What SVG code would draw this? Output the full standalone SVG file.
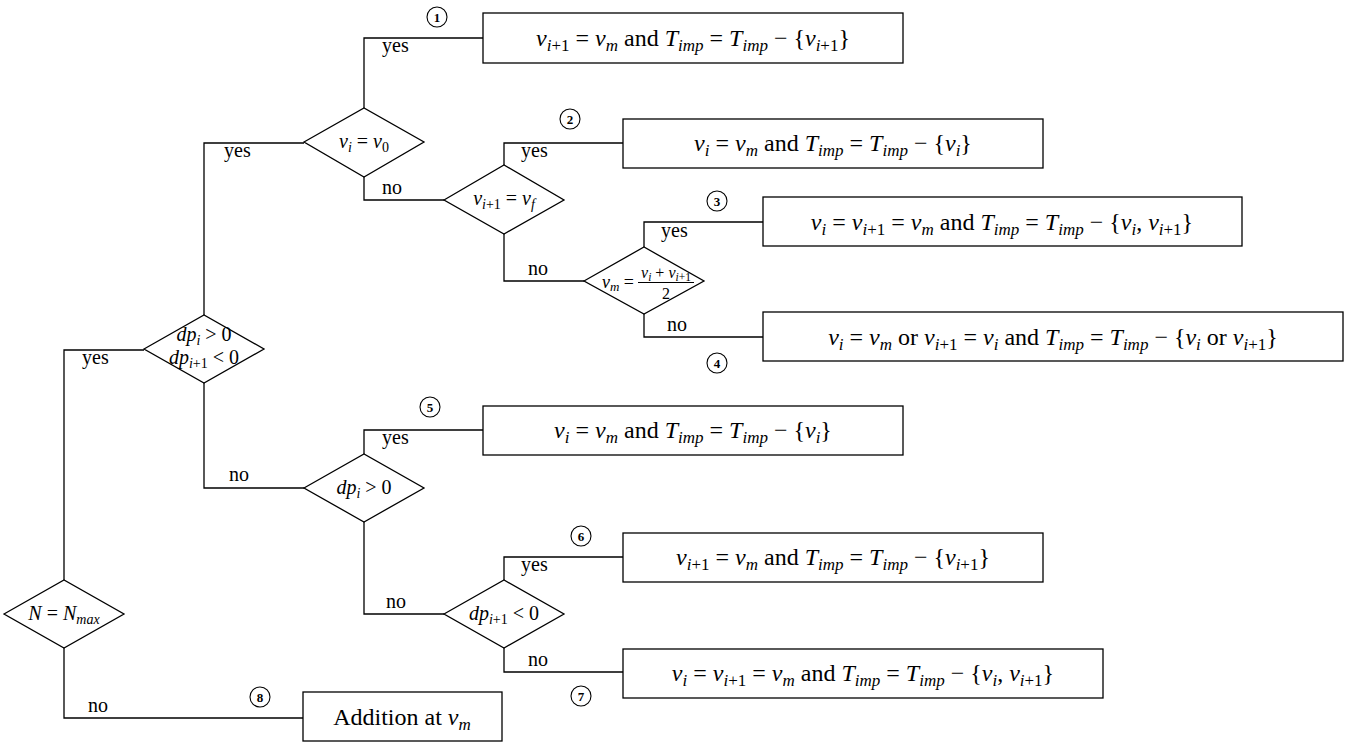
<svg xmlns="http://www.w3.org/2000/svg" width="1356" height="745" viewBox="0 0 1356 745">
<style>
.ln{stroke:#000;stroke-width:1.3;fill:none}
.sh{fill:#fff;stroke:#000;stroke-width:1.3}
.t{font-family:"Liberation Serif","Times New Roman",serif;fill:#000}
.bt{font-size:24px}
.bs{font-size:17px}
.dt{font-size:20px}
.ds{font-size:14px}
.yn{font-size:20px}
.i{font-style:italic}
.cc{fill:#fff;stroke:#000;stroke-width:1.1}
.cn{font-size:13px;font-weight:bold}
</style>
<rect width="1356" height="745" fill="#fff"/>
<g id="connectors">
<polyline class="ln" points="64,580 64,350 144,350"/>
<polyline class="ln" points="64,648 64,718 303,718"/>
<polyline class="ln" points="204,315 204,143 304,143"/>
<polyline class="ln" points="204,383 204,488 304,488"/>
<polyline class="ln" points="364,108 364,38 483,38"/>
<polyline class="ln" points="364,177 364,200 444,200"/>
<polyline class="ln" points="504,165 504,143 623,143"/>
<polyline class="ln" points="504,234 504,281 584,281"/>
<polyline class="ln" points="644,247 644,222 763,222"/>
<polyline class="ln" points="644,314 644,337 763,337"/>
<polyline class="ln" points="364,454 364,430 483,430"/>
<polyline class="ln" points="364,522 364,614 444,614"/>
<polyline class="ln" points="504,580 504,557 623,557"/>
<polyline class="ln" points="504,648 504,672 623,672"/>
<g class="t yn">
<text x="82" y="364">yes</text>
<text x="88" y="712">no</text>
<text x="224" y="157">yes</text>
<text x="229" y="481">no</text>
<text x="382" y="52">yes</text>
<text x="382" y="194">no</text>
<text x="521" y="157">yes</text>
<text x="528" y="275">no</text>
<text x="661" y="237">yes</text>
<text x="667" y="331">no</text>
<text x="382" y="444">yes</text>
<text x="386" y="608">no</text>
<text x="521" y="571">yes</text>
<text x="528" y="666">no</text>
</g>
<g class="t cn" text-anchor="middle">
<circle class="cc" cx="437" cy="17" r="10"/><text x="437" y="21.5">1</text>
<circle class="cc" cx="570" cy="119" r="10"/><text x="570" y="123.5">2</text>
<circle class="cc" cx="717" cy="201" r="10"/><text x="717" y="205.5">3</text>
<circle class="cc" cx="717" cy="363" r="10"/><text x="717" y="367.5">4</text>
<circle class="cc" cx="430" cy="407" r="10"/><text x="430" y="411.5">5</text>
<circle class="cc" cx="581" cy="536" r="10"/><text x="581" y="540.5">6</text>
<circle class="cc" cx="581" cy="696" r="10"/><text x="581" y="700.5">7</text>
<circle class="cc" cx="260" cy="697" r="10"/><text x="260" y="701.5">8</text>
</g>
</g>
<g id="d-nmax">
<polygon class="sh" points="4,614 64,580 124,614 64,648"/>
<text class="t dt" x="64" y="620" text-anchor="middle"><tspan class="i">N</tspan> = <tspan class="i">N</tspan><tspan class="ds i" dy="4">max</tspan></text>
</g>
<g id="d-dp-both">
<polygon class="sh" points="144,349 204,315 264,349 204,383"/>
<text class="t dt" x="204" y="341" text-anchor="middle"><tspan class="i">dp</tspan><tspan class="ds i" dy="4">i</tspan><tspan dy="-4"> &gt; 0</tspan></text>
<text class="t dt" x="204" y="364" text-anchor="middle"><tspan class="i">dp</tspan><tspan class="ds" dy="4"><tspan class="i">i</tspan>+1</tspan><tspan dy="-4"> &lt; 0</tspan></text>
</g>
<g id="d-v0">
<polygon class="sh" points="304,142 364,108 424,142 364,177"/>
<text class="t dt" x="364" y="148" text-anchor="middle"><tspan class="i">v</tspan><tspan class="ds i" dy="4">i</tspan><tspan dy="-4"> = </tspan><tspan class="i">v</tspan><tspan class="ds" dy="4">0</tspan></text>
</g>
<g id="d-vf">
<polygon class="sh" points="444,200 504,165 564,200 504,234"/>
<text class="t dt" x="504" y="205" text-anchor="middle"><tspan class="i">v</tspan><tspan class="ds" dy="4"><tspan class="i">i</tspan>+1</tspan><tspan dy="-4"> = </tspan><tspan class="i">v</tspan><tspan class="ds i" dy="4">f</tspan></text>
</g>
<g id="d-vm">
<polygon class="sh" points="584,281 644,247 704,281 644,314"/>
<text class="t" font-size="18" x="634" y="288" text-anchor="end"><tspan class="i">v</tspan><tspan class="i" font-size="13" dy="3">m</tspan><tspan dy="-3"> =</tspan></text>
<line x1="638" y1="282.5" x2="694" y2="282.5" stroke="#000" stroke-width="1"/>
<text class="t" font-size="16" x="666" y="278" text-anchor="middle"><tspan class="i">v</tspan><tspan class="i" font-size="11.5" dy="3">i</tspan><tspan dy="-3"> + </tspan><tspan class="i">v</tspan><tspan font-size="11.5" dy="3"><tspan class="i">i</tspan>+1</tspan></text>
<text class="t" font-size="16" x="666" y="299" text-anchor="middle">2</text>
</g>
<g id="d-dpi">
<polygon class="sh" points="304,488 364,454 424,488 364,522"/>
<text class="t dt" x="364" y="494" text-anchor="middle"><tspan class="i">dp</tspan><tspan class="ds i" dy="4">i</tspan><tspan dy="-4"> &gt; 0</tspan></text>
</g>
<g id="d-dpi1">
<polygon class="sh" points="444,614 504,580 564,614 504,648"/>
<text class="t dt" x="504" y="620" text-anchor="middle"><tspan class="i">dp</tspan><tspan class="ds" dy="4"><tspan class="i">i</tspan>+1</tspan><tspan dy="-4"> &lt; 0</tspan></text>
</g>
<g id="b1">
<rect class="sh" x="483" y="13" width="420" height="50"/>
<text class="t bt" x="693" y="46" text-anchor="middle"><tspan class="i">v</tspan><tspan class="bs" dy="5"><tspan class="i">i</tspan>+1</tspan><tspan dy="-5"> = </tspan><tspan class="i">v</tspan><tspan class="bs i" dy="5">m</tspan><tspan dy="-5"> and </tspan><tspan class="i">T</tspan><tspan class="bs i" dy="5">imp</tspan><tspan dy="-5"> = </tspan><tspan class="i">T</tspan><tspan class="bs i" dy="5">imp</tspan><tspan dy="-5"> − {</tspan><tspan class="i">v</tspan><tspan class="bs" dy="5"><tspan class="i">i</tspan>+1</tspan><tspan dy="-5">}</tspan></text>
</g>
<g id="b2">
<rect class="sh" x="623" y="119" width="420" height="49"/>
<text class="t bt" x="833" y="151" text-anchor="middle"><tspan class="i">v</tspan><tspan class="bs i" dy="5">i</tspan><tspan dy="-5"> = </tspan><tspan class="i">v</tspan><tspan class="bs i" dy="5">m</tspan><tspan dy="-5"> and </tspan><tspan class="i">T</tspan><tspan class="bs i" dy="5">imp</tspan><tspan dy="-5"> = </tspan><tspan class="i">T</tspan><tspan class="bs i" dy="5">imp</tspan><tspan dy="-5"> − {</tspan><tspan class="i">v</tspan><tspan class="bs i" dy="5">i</tspan><tspan dy="-5">}</tspan></text>
</g>
<g id="b3">
<rect class="sh" x="763" y="197" width="479" height="49"/>
<text class="t bt" x="1002" y="230" text-anchor="middle"><tspan class="i">v</tspan><tspan class="bs i" dy="5">i</tspan><tspan dy="-5"> = </tspan><tspan class="i">v</tspan><tspan class="bs" dy="5"><tspan class="i">i</tspan>+1</tspan><tspan dy="-5"> = </tspan><tspan class="i">v</tspan><tspan class="bs i" dy="5">m</tspan><tspan dy="-5"> and </tspan><tspan class="i">T</tspan><tspan class="bs i" dy="5">imp</tspan><tspan dy="-5"> = </tspan><tspan class="i">T</tspan><tspan class="bs i" dy="5">imp</tspan><tspan dy="-5"> − {</tspan><tspan class="i">v</tspan><tspan class="bs i" dy="5">i</tspan><tspan dy="-5">, </tspan><tspan class="i">v</tspan><tspan class="bs" dy="5"><tspan class="i">i</tspan>+1</tspan><tspan dy="-5">}</tspan></text>
</g>
<g id="b4">
<rect class="sh" x="763" y="312" width="580" height="49"/>
<text class="t bt" x="1053" y="345" text-anchor="middle"><tspan class="i">v</tspan><tspan class="bs i" dy="5">i</tspan><tspan dy="-5"> = </tspan><tspan class="i">v</tspan><tspan class="bs i" dy="5">m</tspan><tspan dy="-5"> or </tspan><tspan class="i">v</tspan><tspan class="bs" dy="5"><tspan class="i">i</tspan>+1</tspan><tspan dy="-5"> = </tspan><tspan class="i">v</tspan><tspan class="bs i" dy="5">i</tspan><tspan dy="-5"> and </tspan><tspan class="i">T</tspan><tspan class="bs i" dy="5">imp</tspan><tspan dy="-5"> = </tspan><tspan class="i">T</tspan><tspan class="bs i" dy="5">imp</tspan><tspan dy="-5"> − {</tspan><tspan class="i">v</tspan><tspan class="bs i" dy="5">i</tspan><tspan dy="-5"> or </tspan><tspan class="i">v</tspan><tspan class="bs" dy="5"><tspan class="i">i</tspan>+1</tspan><tspan dy="-5">}</tspan></text>
</g>
<g id="b5">
<rect class="sh" x="483" y="406" width="420" height="49"/>
<text class="t bt" x="693" y="438" text-anchor="middle"><tspan class="i">v</tspan><tspan class="bs i" dy="5">i</tspan><tspan dy="-5"> = </tspan><tspan class="i">v</tspan><tspan class="bs i" dy="5">m</tspan><tspan dy="-5"> and </tspan><tspan class="i">T</tspan><tspan class="bs i" dy="5">imp</tspan><tspan dy="-5"> = </tspan><tspan class="i">T</tspan><tspan class="bs i" dy="5">imp</tspan><tspan dy="-5"> − {</tspan><tspan class="i">v</tspan><tspan class="bs i" dy="5">i</tspan><tspan dy="-5">}</tspan></text>
</g>
<g id="b6">
<rect class="sh" x="623" y="533" width="420" height="49"/>
<text class="t bt" x="833" y="565" text-anchor="middle"><tspan class="i">v</tspan><tspan class="bs" dy="5"><tspan class="i">i</tspan>+1</tspan><tspan dy="-5"> = </tspan><tspan class="i">v</tspan><tspan class="bs i" dy="5">m</tspan><tspan dy="-5"> and </tspan><tspan class="i">T</tspan><tspan class="bs i" dy="5">imp</tspan><tspan dy="-5"> = </tspan><tspan class="i">T</tspan><tspan class="bs i" dy="5">imp</tspan><tspan dy="-5"> − {</tspan><tspan class="i">v</tspan><tspan class="bs" dy="5"><tspan class="i">i</tspan>+1</tspan><tspan dy="-5">}</tspan></text>
</g>
<g id="b7">
<rect class="sh" x="623" y="649" width="480" height="49"/>
<text class="t bt" x="863" y="681" text-anchor="middle"><tspan class="i">v</tspan><tspan class="bs i" dy="5">i</tspan><tspan dy="-5"> = </tspan><tspan class="i">v</tspan><tspan class="bs" dy="5"><tspan class="i">i</tspan>+1</tspan><tspan dy="-5"> = </tspan><tspan class="i">v</tspan><tspan class="bs i" dy="5">m</tspan><tspan dy="-5"> and </tspan><tspan class="i">T</tspan><tspan class="bs i" dy="5">imp</tspan><tspan dy="-5"> = </tspan><tspan class="i">T</tspan><tspan class="bs i" dy="5">imp</tspan><tspan dy="-5"> − {</tspan><tspan class="i">v</tspan><tspan class="bs i" dy="5">i</tspan><tspan dy="-5">, </tspan><tspan class="i">v</tspan><tspan class="bs" dy="5"><tspan class="i">i</tspan>+1</tspan><tspan dy="-5">}</tspan></text>
</g>
<g id="b8">
<rect class="sh" x="303" y="692" width="199" height="49"/>
<text class="t bt" x="402" y="725" text-anchor="middle">Addition at <tspan class="i">v</tspan><tspan class="bs i" dy="5">m</tspan></text>
</g>
</svg>
